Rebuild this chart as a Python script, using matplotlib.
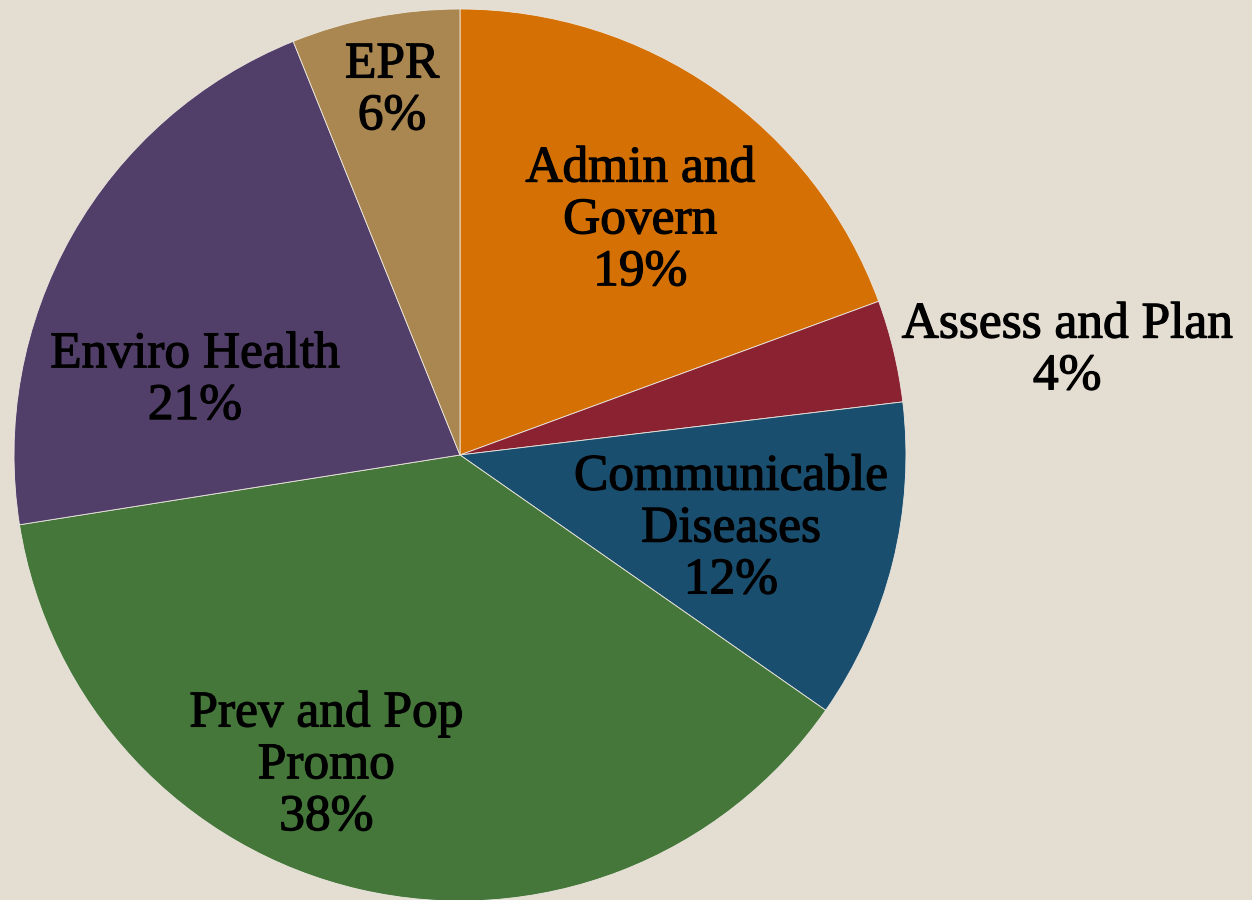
import numpy as np
import matplotlib
matplotlib.use('Agg')
import matplotlib.pyplot as plt
import matplotlib.patheffects as pe

# data (clockwise from 12 o'clock), shares in percent
categories = ['Admin and\nGovern', 'Assess and Plan', 'Communicable\nDiseases',
              'Prev and Pop\nPromo', 'Enviro Health', 'EPR']
shares = [19.4, 3.7, 11.6, 37.8, 21.4, 6.1]
colors = ['#D57104', '#8B2231', '#1A4E6E', '#46773A', '#523F69', '#AA8750']

# label placement: distance from centre (radius=1) and angular nudge (deg)
label_dist = [0.662, 1.381, 0.630, 0.759, 0.617, 0.830]
label_nudge = [-2.7, -3.8, -1.3, -10.3, 13.9, -0.4]

bg = '#E3DDD2'
fig = plt.figure(figsize=(12.52, 9), dpi=100, facecolor=bg)
ax = fig.add_axes([14/1252, -1/900, 892/1252, 892/900])
ax.set_facecolor(bg)

wedges, _ = ax.pie(shares, colors=colors, startangle=90, counterclock=False,
                   radius=1, wedgeprops=dict(edgecolor='#EDE8E0', linewidth=0.6))

total = sum(shares)
for w, cat, v, d, nd in zip(wedges, categories, shares, label_dist, label_nudge):
    mid = np.deg2rad((w.theta1 + w.theta2) / 2 + nd)
    ax.text(d * np.cos(mid), d * np.sin(mid), f'{cat}\n{v / total:.0%}',
            ha='center', va='center', fontsize=37, family='Liberation Serif',
            linespacing=1.15, color='black',
            path_effects=[pe.withStroke(linewidth=0.9, foreground='black')])

ax.set_xlim(-1, 1)
ax.set_ylim(-1, 1)
ax.set_aspect('auto')
ax.axis('off')
fig.savefig('out.png', dpi=100, facecolor=bg)
